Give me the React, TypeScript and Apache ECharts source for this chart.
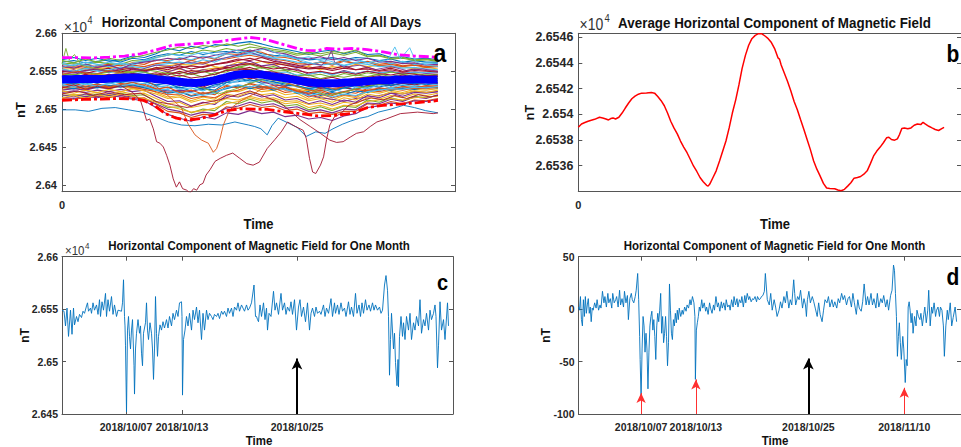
import React, { useEffect, useRef } from 'react';
import * as echarts from 'echarts';

const FONT = '"Liberation Sans", Arial, Helvetica, sans-serif';
const AXIS_COLOR = '#555555';
const LABEL_COLOR = '#262626';
const MATLAB = ['#0072BD', '#D95319', '#EDB120', '#7E2F8E', '#77AC30', '#4DBEEE', '#A2142F'];

// ---------- Panels a / b : hour of day ----------
const dayHours = [0, 0.75, 1.5, 2.25, 3, 3.75, 4.5, 5.25, 6, 6.75, 7.5, 8.25, 9, 9.75, 10.5, 11.25, 12, 12.75, 13.5, 14.25, 15, 15.75, 16.5, 17.25, 18, 18.75, 19.5, 20.25, 21, 21.75, 22.5, 23.25, 24];
const dayBase = 26540;
// deviation (nT) of each day's H from dayBase, sampled at dayHours
const allDaysDev: number[][] = [
  [22, 24, 21, 23, 25, 22, 27, 25, 30, 33, 31, 36, 32, 35, 36, 34, 38, 33, 31, 30, 27, 25, 26, 28, 25, 28, 27, 24, 26, 22, 24, 22, 22],
  [16, 18, 15, 17, 19, 17, 21, 19, 25, 24, 27, 24, 29, 26, 33, 32, 37, 35, 29, 28, 25, 18, 22, 20, 24, 20, 23, 19, 21, 17, 19, 16, 17],
  [12, 14, 11, 13, 15, 13, 15, 12, 14, 10, 13, 9, 12, 14, 16, 22, 19, 23, 18, 20, 15, 16, 12, 16, 14, 19, 16, 18, 15, 16, 13, 15, 13],
  [8, 6, 9, 7, 10, 8, 12, 9, 13, 9, 14, 8, 12, 10, 17, 19, 23, 17, 19, 12, 13, 6, 9, 6, 11, 7, 10, 8, 10, 7, 9, 7, 8],
  [4, 6, 3, 7, 4, 8, 5, 9, 4, 8, 3, 7, 2, 8, 9, 16, 12, 15, 10, 11, 4, 5, 0, 4, 2, 5, 3, 6, 3, 6, 3, 5, 4],
  [1, -1, 2, 0, 3, 1, 4, 2, 3, -1, 1, -3, 0, -2, 6, 10, 8, 11, 4, 5, 2, -4, -2, -5, -1, -3, 0, -1, 2, 0, 1, -1, 1],
  [-3, -1, -4, -1, -3, 0, -2, 1, -5, -3, -9, -7, -11, -5, -3, 4, 0, 3, -2, 0, -7, -6, -11, -8, -10, -6, -8, -3, -6, -2, -5, -2, -3],
  [-7, -5, -7, -4, -6, -3, -5, -3, -9, -12, -11, -16, -13, -15, -5, -4, -1, -6, -4, -9, -9, -15, -13, -17, -12, -14, -9, -11, -7, -9, -6, -8, -6],
  [-10, -8, -11, -7, -10, -6, -9, -7, -13, -18, -16, -22, -18, -21, -10, -11, -7, -12, -9, -15, -14, -20, -17, -22, -17, -19, -13, -15, -11, -13, -10, -11, -9],
  [-14, -12, -14, -11, -13, -10, -13, -11, -18, -24, -22, -29, -24, -27, -16, -17, -12, -17, -15, -21, -19, -27, -23, -28, -22, -25, -17, -19, -15, -18, -14, -15, -13],
  [-18, -16, -18, -15, -17, -14, -17, -15, -23, -30, -29, -36, -31, -34, -22, -24, -19, -24, -21, -28, -26, -33, -29, -34, -28, -31, -22, -25, -19, -23, -18, -19, -17],
  [-22, -21, -23, -20, -22, -19, -22, -21, -30, -38, -37, -45, -40, -42, -30, -33, -27, -32, -29, -36, -34, -41, -37, -42, -36, -38, -28, -31, -25, -29, -23, -25, -22],
  [11, 9, 12, 10, 8, 11, 9, 9, 3, 4, -3, 0, -6, -4, -2, 5, 2, 8, 7, 9, 5, 6, 9, 5, 10, 7, 10, 8, 9, 7, 9, 8, 9],
  [-5, -3, -5, -2, -4, 0, 2, 5, 4, 8, 7, 11, 9, 13, 15, 13, 12, 7, 1, -3, -6, -10, -12, -13, -11, -14, -9, -7, -9, -6, -8, -6, -7],
  [25, 28, 24, 27, 23, 25, 30, 28, 33, 40, 37, 43, 40, 45, 44, 47, 49, 46, 42, 39, 36, 32, 36, 38, 33, 37, 32, 33, 28, 29, 26, 27, 25],
  [-26, -27, -25, -23, -25, -22, -26, -25, -34, -43, -45, -51, -47, -48, -37, -39, -34, -38, -36, -42, -40, -46, -44, -47, -43, -43, -33, -35, -30, -33, -28, -29, -26],
  [2, 4, 3, 6, 5, 8, 10, 12, 14, 17, 19, 18, 21, 16, 13, 11, 4, -3, -6, -11, -14, -16, -15, -14, -12, -8, -6, -1, 1, 0, 3, 1, 2],
  [-15, -13, -15, -11, -13, -9, -11, -10, -14, -16, -15, -17, -12, -11, -2, -1, 3, -4, -8, -10, -17, -21, -25, -27, -30, -26, -24, -22, -19, -20, -17, -18, -17],
  [6, 5, 8, 6, 9, 11, 8, 12, 10, 7, 9, 6, 10, 5, 12, 15, 19, 14, 16, 12, 9, 4, 6, 2, 7, 4, 8, 5, 9, 6, 7, 5, 6],
  [-6, -8, -5, -9, -7, -4, -8, -6, -11, -9, -14, -12, -16, -10, -8, -2, -5, -1, -7, -5, -11, -12, -16, -13, -18, -11, -13, -8, -12, -8, -10, -6, -8],
  [3, 1, 4, 2, 6, 3, 7, 4, 6, 2, 5, 1, 3, 6, 11, 12, 15, 10, 9, 6, 3, 1, -1, 2, -2, 1, 2, 4, 1, 5, 2, 4, 3],
  [-11, -13, -10, -12, -9, -11, -8, -12, -15, -19, -17, -23, -20, -17, -13, -9, -13, -10, -15, -12, -19, -17, -22, -18, -21, -16, -18, -13, -15, -12, -14, -11, -12],
  [14, 16, 13, 15, 17, 14, 18, 16, 20, 22, 19, 24, 21, 25, 26, 29, 31, 28, 26, 24, 20, 19, 22, 18, 23, 20, 22, 17, 19, 16, 18, 15, 16],
  [-19, -21, -20, -18, -21, -17, -20, -19, -26, -33, -31, -38, -35, -32, -26, -28, -23, -27, -25, -30, -29, -34, -32, -36, -31, -33, -25, -27, -22, -25, -20, -22, -19],
  [-24, -26, -23, -25, -22, -24, -27, -29, -38, -47, -52, -56, -50, -53, -45, -47, -42, -46, -44, -50, -48, -53, -51, -55, -49, -46, -38, -36, -32, -34, -29, -30, -27],
  [19, 21, 18, 22, 20, 19, 24, 23, 28, 31, 35, 33, 38, 36, 40, 37, 42, 40, 37, 35, 31, 33, 30, 34, 31, 35, 29, 30, 26, 27, 24, 25, 23],
  [20, 17, 22, 19, 16, 21, 18, 23, 26, 22, 28, 25, 30, 27, 33, 29, 35, 31, 28, 32, 26, 29, 24, 27, 23, 26, 21, 24, 20, 23, 19, 21, 20],
  [9, 12, 7, 11, 14, 9, 13, 10, 15, 12, 17, 13, 16, 19, 22, 26, 24, 28, 23, 21, 18, 14, 16, 13, 17, 12, 15, 11, 14, 10, 13, 11, 10],
  [-1, 2, -3, 1, -2, 3, 0, 4, -2, 1, -5, -2, -6, 0, 4, 8, 5, 9, 6, 2, -1, -3, -7, -4, -8, -5, -2, -4, 0, -3, 1, -2, 0],
  [-9, -6, -10, -7, -11, -8, -5, -9, -14, -11, -18, -15, -20, -16, -9, -12, -6, -10, -13, -11, -16, -19, -15, -20, -17, -14, -16, -12, -14, -10, -12, -9, -10],
  [-16, -19, -15, -18, -14, -17, -13, -16, -20, -26, -24, -31, -27, -30, -20, -23, -17, -21, -19, -25, -23, -29, -26, -31, -25, -28, -20, -23, -17, -20, -16, -18, -15],
  [-21, -24, -20, -23, -19, -22, -24, -27, -33, -40, -43, -48, -44, -46, -39, -36, -31, -35, -33, -39, -37, -43, -41, -45, -40, -41, -32, -33, -27, -30, -24, -26, -21],
  [24, 21, 26, 22, 27, 24, 28, 31, 35, 38, 42, 40, 44, 42, 46, 43, 46, 42, 39, 37, 33, 35, 33, 36, 34, 38, 30, 31, 27, 28, 25, 26, 24],
  [13, 10, 14, 11, 12, 15, 16, 14, 18, 20, 22, 20, 25, 22, 28, 31, 33, 30, 27, 25, 22, 21, 18, 20, 17, 21, 19, 16, 17, 14, 15, 13, 12],
  [5, 2, 6, 3, 1, 4, 7, 5, 8, 5, 10, 6, 9, 11, 14, 18, 20, 16, 13, 15, 11, 8, 10, 7, 9, 6, 10, 7, 5, 8, 6, 4, 5],
  [-4, -7, -3, -6, -2, -5, -1, -4, -8, -6, -12, -9, -14, -8, -5, 1, -3, -1, -4, -7, -9, -13, -10, -15, -12, -9, -11, -6, -9, -5, -7, -4, -5],
  [-12, -10, -13, -9, -12, -8, -11, -14, -17, -21, -20, -26, -23, -25, -18, -15, -10, -14, -12, -18, -16, -24, -20, -25, -21, -23, -15, -17, -13, -15, -12, -13, -11],
  [-25, -22, -26, -21, -24, -20, -23, -26, -31, -36, -40, -44, -42, -39, -33, -30, -25, -29, -27, -33, -31, -38, -35, -40, -35, -36, -30, -28, -26, -28, -25, -24, -23],
  [17, 14, 19, 15, 18, 13, 20, 22, 24, 27, 25, 30, 27, 31, 34, 38, 36, 40, 35, 33, 28, 26, 29, 25, 28, 24, 27, 22, 23, 20, 21, 18, 19],
  [-2, 1, -1, 3, 0, 2, -1, 3, 1, -2, 0, -4, -2, 1, 5, 9, 11, 7, 6, 3, -1, -4, -3, -6, -4, -7, -3, -5, -2, -4, -1, -3, -2],
  [-8, -11, -7, -10, -6, -9, -7, -10, -15, -14, -20, -18, -22, -19, -12, -8, -11, -7, -12, -14, -18, -22, -19, -24, -20, -22, -17, -15, -13, -14, -11, -12, -10],
  [10, 8, 11, 13, 10, 12, 14, 11, 13, 15, 14, 17, 15, 19, 21, 24, 27, 23, 21, 18, 15, 13, 14, 11, 14, 12, 13, 10, 12, 9, 11, 10, 9],
];

// disturbed days: [hour, H (nT)]
const deepStormDay: [number, number][] = [[0, 26528], [0.75, 26532], [1.5, 26526], [2.25, 26530], [3, 26527], [3.75, 26531], [4.5, 26522], [5.0, 26512], [5.2, 26499], [5.4, 26485], [5.6, 26487], [5.83, 26474], [6.04, 26457], [6.25, 26455], [6.47, 26450], [6.68, 26439], [6.89, 26426], [7.1, 26408], [7.3, 26397], [7.5, 26404], [7.7, 26395], [7.96, 26393], [8.17, 26389], [8.4, 26395], [8.6, 26393], [8.8, 26400], [9.0, 26402], [9.2, 26413], [9.45, 26420], [9.77, 26431], [10.1, 26435], [10.5, 26439], [10.9, 26442], [11.35, 26435], [11.8, 26428], [12.2, 26426], [12.6, 26430], [13.1, 26448], [13.6, 26460], [14.0, 26470], [14.4, 26483], [14.9, 26477], [15.4, 26472], [15.6, 26461], [15.8, 26435], [16.0, 26417], [16.2, 26415], [16.5, 26426], [16.7, 26437], [16.9, 26461], [17.1, 26479], [17.4, 26490], [17.8, 26494], [18.3, 26505], [19, 26510], [19.75, 26515], [20.5, 26512], [21.25, 26518], [22, 26514], [22.75, 26519], [23.5, 26516], [24, 26518]];
const orangeStormDay: [number, number][] = [[0, 26546], [1, 26550], [2, 26545], [3, 26551], [4, 26547], [5, 26543], [6, 26530], [6.75, 26518], [7.3, 26508], [7.64, 26501], [8.06, 26480], [8.49, 26466], [8.92, 26459], [9.34, 26455], [9.66, 26443], [9.87, 26448], [10.09, 26461], [10.3, 26479], [10.6, 26494], [10.9, 26503], [11.5, 26512], [12.25, 26520], [13, 26530], [13.75, 26526], [14.5, 26534], [15.25, 26528], [16, 26524], [16.75, 26530], [17.5, 26526], [18.25, 26533], [19, 26530], [19.75, 26537], [20.5, 26534], [21.25, 26540], [22, 26536], [22.75, 26541], [23.5, 26538], [24, 26540]];
const lowBlueDay: [number, number][] = [[0, 26499], [0.85, 26499], [1.7, 26497], [2.55, 26501], [3.4, 26502], [4.24, 26499], [5.1, 26496], [5.94, 26490], [6.8, 26483], [7.64, 26479], [8.49, 26478], [9.34, 26480], [10.2, 26479], [11.04, 26483], [11.9, 26479], [12.3, 26477], [12.7, 26474], [13.1, 26466], [13.4, 26478], [13.8, 26488], [14.4, 26482], [15.0, 26476], [15.6, 26464], [16.2, 26470], [16.8, 26468], [17.3, 26474], [17.9, 26480], [18.4, 26484], [19.0, 26488], [19.5, 26490], [20.2, 26496], [21, 26500], [21.8, 26505], [22.5, 26502], [23.2, 26498], [24, 26495]];
const redDipDay: [number, number][] = [[0, 26520], [1, 26524], [2, 26518], [3, 26523], [4, 26519], [5, 26521], [6, 26510], [7, 26506], [8, 26502], [9, 26508], [10, 26512], [11, 26518], [12, 26524], [13, 26516], [13.8, 26510], [14.55, 26498], [15.2, 26486], [15.85, 26477], [16.5, 26468], [17.1, 26459], [17.53, 26456], [17.95, 26457], [18.4, 26463], [18.8, 26468], [19.25, 26470], [19.68, 26477], [20.1, 26483], [20.7, 26487], [21.6, 26494], [22.7, 26496], [23.7, 26494], [24, 26495]];
const cyanSpikeDay: [number, number][] = [[0, 26555], [1, 26560], [2, 26556], [3, 26562], [4, 26558], [5, 26563], [6, 26568], [7, 26572], [8, 26570], [9, 26575], [10, 26571], [11, 26578], [12, 26574], [13, 26580], [14, 26571], [15, 26566], [16, 26560], [17, 26564], [18, 26558], [19, 26563], [20, 26560], [20.8, 26565], [21.25, 26582], [21.6, 26566], [22.2, 26581], [22.6, 26562], [23.3, 26558], [24, 26556]];
const purpleSpikeDay: [number, number][] = [[0, 26551], [1, 26548], [2, 26553], [3, 26549], [4, 26555], [5, 26552], [6, 26558], [7, 26556], [8, 26562], [9, 26559], [10, 26566], [11, 26570], [12, 26575], [13, 26568], [14, 26562], [15, 26556], [16, 26560], [16.6, 26558], [17.0, 26568], [17.2, 26577], [17.4, 26562], [18, 26555], [19, 26558], [20, 26552], [21, 26556], [22, 26551], [23, 26553], [24, 26550]];
const greenSpikeDay: [number, number][] = [[0, 26560], [0.25, 26580], [0.45, 26565], [0.8, 26572], [1.2, 26558], [2, 26554], [3, 26550], [4, 26548], [5, 26550], [6, 26545], [7, 26540], [8, 26532], [9, 26528], [10, 26520], [11, 26526], [12, 26534], [13, 26540], [14, 26536], [15, 26530], [16, 26524], [17, 26518], [18, 26522], [19, 26528], [20, 26532], [21, 26534], [22, 26538], [23, 26542], [24, 26540]];

const upperEnvelope: [number, number][] = [[0, 26568], [1, 26568], [2, 26567.5], [3, 26568.5], [4, 26570], [5, 26573], [6, 26578], [7, 26584], [8, 26585.5], [9, 26587], [10, 26589], [11, 26592], [12, 26594.5], [13, 26592], [14, 26586], [15, 26580], [15.6, 26577.5], [16.3, 26577], [16.9, 26580], [17.6, 26579], [18.5, 26580], [19.5, 26578.5], [20.5, 26575.5], [21.5, 26571.5], [22.5, 26570], [23.5, 26569], [24, 26568]];
const lowerEnvelope: [number, number][] = [[0, 26511.5], [1.4, 26512.8], [2.5, 26513.2], [3.5, 26514], [4.6, 26513.2], [5.2, 26511.5], [5.8, 26506], [6.6, 26494], [7.3, 26488], [8, 26485.5], [8.8, 26487.5], [9.7, 26492], [10.5, 26498], [11.4, 26500.5], [12.3, 26500], [13.1, 26499.5], [14.2, 26496.5], [15.2, 26494], [16.3, 26491], [17.3, 26491.5], [18.4, 26494], [19.5, 26502], [20.5, 26505], [21.6, 26506.5], [22.7, 26508.5], [23.7, 26510.5], [24, 26511.5]];

const averageCurve: [number, number][] = [[0, 26539.0], [0.21, 26539.25], [0.43, 26539.36], [0.64, 26539.46], [0.85, 26539.54], [1.07, 26539.61], [1.39, 26539.77], [1.6, 26539.72], [1.81, 26539.64], [1.98, 26539.56], [2.13, 26539.67], [2.28, 26539.72], [2.44, 26539.64], [2.66, 26539.77], [2.87, 26540.1], [3.08, 26540.49], [3.3, 26540.88], [3.51, 26541.21], [3.72, 26541.42], [3.94, 26541.57], [4.15, 26541.65], [4.47, 26541.67], [4.79, 26541.7], [5.0, 26541.65], [5.21, 26541.39], [5.43, 26541.06], [5.64, 26540.67], [5.85, 26540.1], [6.06, 26539.46], [6.27, 26538.94], [6.49, 26538.48], [6.7, 26537.92], [6.91, 26537.45], [7.13, 26537.01], [7.34, 26536.5], [7.55, 26535.98], [7.77, 26535.55], [7.98, 26535.08], [8.19, 26534.75], [8.41, 26534.47], [8.51, 26534.41], [8.62, 26534.57], [8.83, 26535.08], [9.04, 26535.6], [9.26, 26536.37], [9.47, 26537.14], [9.68, 26537.92], [9.89, 26538.94], [10.1, 26540.1], [10.32, 26541.13], [10.53, 26542.29], [10.74, 26543.58], [10.96, 26544.61], [11.17, 26545.38], [11.38, 26545.89], [11.6, 26546.15], [11.81, 26546.28], [12.02, 26546.28], [12.24, 26546.1], [12.45, 26545.89], [12.66, 26545.59], [12.87, 26545.12], [13.09, 26544.4], [13.19, 26544.3], [13.3, 26543.84], [13.51, 26543.2], [13.72, 26542.55], [13.93, 26541.83], [14.15, 26541.0], [14.36, 26540.36], [14.57, 26539.59], [14.79, 26538.82], [15.0, 26538.04], [15.21, 26537.27], [15.43, 26536.37], [15.64, 26535.73], [15.85, 26535.21], [16.07, 26534.62], [16.28, 26534.26], [16.49, 26534.23], [16.81, 26534.21], [17.02, 26534.11], [17.23, 26534.05], [17.45, 26534.16], [17.66, 26534.41], [17.87, 26534.67], [18.08, 26535.03], [18.3, 26535.08], [18.51, 26535.16], [18.72, 26535.34], [18.94, 26535.6], [19.15, 26536.16], [19.36, 26536.76], [19.57, 26537.14], [19.79, 26537.45], [20.0, 26537.79], [20.21, 26538.17], [20.36, 26538.22], [20.53, 26538.04], [20.74, 26537.99], [20.92, 26538.09], [21.06, 26538.43], [21.21, 26538.89], [21.38, 26538.94], [21.6, 26538.87], [21.81, 26538.94], [22.02, 26539.15], [22.23, 26539.25], [22.45, 26539.2], [22.6, 26539.38], [22.74, 26539.25], [22.98, 26539.07], [23.19, 26538.94], [23.4, 26538.82], [23.62, 26538.74], [23.83, 26538.89], [23.98, 26538.99]];

const dayAxisMax = 25.09;
const allDaysTicks = [26400, 26450, 26500, 26550, 26600];
const averageTicks = [26536, 26538, 26540, 26542, 26544, 26546];

// ---------- Panels c / d : one month, sample index ----------
const monthAxisMax = 782;
const monthTickIdx = [128, 240, 470, 666];
const monthTickLabels = ['2018/10/07', '2018/10/13', '2018/10/25', '2018/11/10'];
const monthTicksC = [26450, 26500, 26550, 26600];
const monthTicksD = [-100, -50, 0, 50];

const monthFieldC: [number, number][] = [[0, 26549], [4, 26548], [7, 26534], [10, 26551], [13, 26524], [17, 26549], [20, 26526], [23, 26551], [25, 26535], [29, 26543], [32, 26538], [35, 26545], [39, 26542], [42, 26548], [45, 26546], [49, 26553], [51, 26556], [53, 26548], [57, 26551], [59, 26546], [62, 26556], [65, 26549], [69, 26554], [72, 26545], [75, 26559], [77, 26543], [80, 26557], [83, 26549], [87, 26565], [89, 26543], [92, 26559], [95, 26548], [99, 26562], [102, 26545], [105, 26554], [109, 26543], [112, 26549], [119, 26548], [121, 26556], [123, 26578], [125, 26543], [126, 26534], [127, 26515], [129, 26452], [131, 26530], [133, 26543], [135, 26524], [137, 26512], [139, 26530], [141, 26540], [144, 26496], [145, 26469], [147, 26512], [149, 26527], [152, 26540], [155, 26527], [157, 26534], [159, 26508], [161, 26496], [163, 26527], [167, 26537], [169, 26556], [171, 26530], [173, 26521], [176, 26537], [179, 26527], [181, 26512], [183, 26483], [185, 26512], [187, 26562], [189, 26527], [191, 26505], [193, 26524], [196, 26535], [199, 26530], [202, 26538], [205, 26532], [209, 26540], [212, 26532], [215, 26543], [219, 26534], [222, 26546], [225, 26540], [229, 26549], [232, 26543], [235, 26556], [239, 26557], [240, 26543], [241, 26468], [243, 26521], [246, 26530], [249, 26543], [252, 26534], [255, 26546], [259, 26530], [262, 26549], [265, 26540], [269, 26552], [272, 26537], [275, 26549], [279, 26521], [282, 26546], [285, 26530], [289, 26549], [292, 26540], [295, 26546], [299, 26543], [302, 26540], [305, 26545], [309, 26543], [312, 26546], [315, 26541], [319, 26548], [322, 26545], [325, 26548], [329, 26543], [332, 26551], [335, 26546], [339, 26551], [342, 26543], [345, 26552], [349, 26549], [352, 26556], [355, 26548], [359, 26554], [362, 26551], [365, 26548], [369, 26554], [372, 26549], [375, 26551], [379, 26556], [384, 26573], [387, 26543], [389, 26543], [391, 26540], [393, 26538], [396, 26554], [399, 26543], [403, 26556], [406, 26540], [409, 26551], [411, 26530], [414, 26546], [418, 26543], [423, 26567], [426, 26549], [429, 26556], [433, 26545], [438, 26565], [441, 26549], [445, 26556], [448, 26545], [451, 26552], [455, 26548], [458, 26557], [461, 26545], [465, 26559], [469, 26530], [473, 26552], [476, 26559], [479, 26543], [483, 26552], [487, 26538], [491, 26556], [495, 26530], [498, 26546], [501, 26551], [505, 26543], [508, 26552], [511, 26546], [515, 26548], [518, 26545], [523, 26554], [526, 26543], [529, 26551], [533, 26546], [538, 26560], [541, 26543], [545, 26556], [547, 26546], [551, 26554], [554, 26545], [558, 26556], [561, 26548], [565, 26551], [568, 26543], [573, 26557], [576, 26545], [579, 26552], [583, 26543], [587, 26565], [590, 26546], [594, 26554], [597, 26543], [600, 26556], [603, 26546], [607, 26559], [610, 26549], [614, 26554], [617, 26548], [621, 26556], [624, 26549], [627, 26554], [631, 26549], [635, 26552], [638, 26546], [641, 26549], [645, 26573], [648, 26582], [651, 26568], [653, 26543], [655, 26487], [657, 26521], [659, 26546], [663, 26512], [665, 26527], [667, 26499], [670, 26477], [672, 26502], [673, 26476], [675, 26524], [678, 26543], [681, 26524], [683, 26537], [686, 26521], [689, 26543], [693, 26530], [696, 26546], [699, 26521], [703, 26537], [706, 26530], [709, 26543], [713, 26534], [716, 26559], [719, 26527], [723, 26540], [726, 26534], [729, 26546], [733, 26530], [736, 26549], [739, 26540], [743, 26546], [746, 26554], [748, 26543], [751, 26494], [753, 26515], [756, 26557], [759, 26530], [763, 26540], [766, 26521], [771, 26556], [773, 26534]];

const monthDevD: [number, number][] = [[0, 2], [2, -1], [4, 12], [6, -10], [8, -16], [10, 9], [12, -7], [14, 12], [16, -4], [18, 4], [20, 10], [22, -4], [24, 2], [26, -12], [28, 1], [30, -1], [33, 6], [36, 1], [38, 9], [41, -1], [44, 4], [46, 1], [49, 17], [52, 6], [54, 12], [57, 2], [60, 15], [62, 6], [65, 10], [68, 1], [70, 15], [73, 6], [76, 9], [78, 12], [81, 2], [84, 18], [86, 4], [89, 10], [92, 2], [94, 17], [97, 6], [100, 13], [102, -10], [105, 10], [108, 15], [110, 9], [113, 6], [116, 12], [118, 18], [121, 34], [123, 9], [125, -26], [126, -48], [128, -85], [130, -38], [132, -7], [134, -16], [136, -41], [138, -23], [140, -38], [142, -76], [144, -41], [146, -16], [148, -7], [150, -2], [152, -20], [154, -10], [156, -26], [158, -48], [160, -16], [162, -4], [164, -12], [166, -1], [168, 15], [170, -23], [172, -7], [174, -32], [176, -23], [178, -7], [180, -26], [182, -54], [184, -32], [186, 24], [188, -1], [190, -23], [192, -29], [194, -10], [196, -16], [198, -4], [200, -13], [202, -1], [204, -10], [206, 1], [209, -7], [212, -1], [214, -5], [217, 2], [220, -2], [222, 4], [225, 1], [228, 9], [230, 4], [233, 12], [236, 6], [238, -7], [239, -67], [241, -20], [243, -13], [245, -7], [247, 2], [249, -2], [252, 9], [254, 1], [257, 6], [260, -2], [262, 2], [265, -5], [268, 6], [270, 1], [273, -4], [276, 4], [278, -1], [281, 12], [284, 2], [286, 6], [289, -2], [292, 7], [294, 1], [297, 6], [300, -1], [302, 9], [305, 2], [308, 4], [310, -1], [313, 9], [316, 2], [318, 12], [321, 4], [324, 10], [326, 2], [329, 9], [332, 6], [334, 12], [337, 2], [340, 13], [342, 6], [345, 15], [348, 9], [350, 12], [353, 7], [356, 10], [358, 9], [361, 12], [364, 7], [366, 12], [369, 9], [372, 10], [374, 12], [377, 13], [380, 17], [382, 34], [386, 9], [390, 4], [393, 15], [396, -1], [400, 9], [403, 2], [406, -7], [410, -1], [413, 7], [416, 1], [420, 12], [423, 6], [426, 17], [430, 1], [433, 9], [436, 4], [440, 28], [442, 15], [444, 4], [448, 12], [451, 9], [454, 18], [458, 1], [461, 10], [464, 4], [466, -7], [468, 9], [471, 17], [474, 6], [478, 12], [481, 7], [484, 1], [488, -7], [491, 6], [494, -5], [498, -12], [501, -1], [504, 9], [508, 6], [511, 12], [514, 2], [518, 9], [521, 2], [524, 7], [528, 1], [531, 10], [534, 6], [538, 15], [541, 9], [544, 13], [548, 4], [551, 10], [554, 12], [558, 2], [561, 15], [564, 6], [568, -5], [571, 9], [574, 1], [578, -2], [581, 7], [584, 24], [588, 4], [591, 12], [594, 4], [598, 15], [601, 4], [604, 10], [608, 1], [611, 15], [614, 2], [618, 10], [621, 6], [624, 13], [628, 2], [631, 9], [634, -1], [638, 13], [641, 18], [644, 42], [646, 37], [648, 15], [650, -7], [652, -45], [654, -26], [656, -13], [658, -32], [660, -48], [663, -26], [665, -38], [668, -70], [670, -48], [672, -54], [674, 2], [676, 7], [678, -1], [680, -13], [682, -4], [684, -23], [687, -7], [690, -16], [692, -1], [695, -7], [698, -10], [700, -4], [703, -16], [706, -5], [708, 2], [711, -13], [714, -1], [716, 18], [719, -16], [722, 2], [724, -4], [727, 6], [730, -7], [732, -1], [735, 2], [738, -7], [740, 2], [743, -1], [746, -16], [748, -45], [751, -16], [754, -1], [756, -10], [760, 6], [763, -16], [766, -8], [770, 2], [773, -12]];

// arrows: storm days (red) and the quiet reference day (black)
const stormIdx = [128, 240, 666];
const stormArrowTipD = [-80, -67, -75];
const quietIdx = 470;
const quietArrowTipC = 26503;
const quietArrowTipD = -47;

const dayFmt = (v: number) => String(Number((v / 10000).toFixed(4)));

function xPair(gridIndex: number, max: number, ticks: number[], labels: number[], fmt: (v: number) => string, fontSize: number, margin: number) {
  const line = { show: true, onZero: false, lineStyle: { color: AXIS_COLOR, width: 1 } };
  const tick = { show: ticks.length > 0, inside: true, length: 4, customValues: ticks, lineStyle: { color: AXIS_COLOR, width: 1 } };
  return [
    { type: 'value', gridIndex, position: 'bottom', min: 0, max, axisLine: line, axisTick: tick, splitLine: { show: false },
      axisLabel: { show: true, customValues: labels, formatter: fmt, fontSize, fontWeight: 'bold', fontFamily: FONT, color: LABEL_COLOR, margin, hideOverlap: false } },
    { type: 'value', gridIndex, position: 'top', min: 0, max, axisLine: line, axisTick: tick, splitLine: { show: false }, axisLabel: { show: false } },
  ];
}
function yPair(gridIndex: number, min: number, max: number, ticks: number[], fmt: (v: number) => string, fontSize: number, margin: number) {
  const line = { show: true, onZero: false, lineStyle: { color: AXIS_COLOR, width: 1 } };
  const tick = { show: true, inside: true, length: 4, customValues: ticks, lineStyle: { color: AXIS_COLOR, width: 1 } };
  return [
    { type: 'value', gridIndex, position: 'left', min, max, axisLine: line, axisTick: tick, splitLine: { show: false },
      axisLabel: { show: true, customValues: ticks, formatter: fmt, fontSize, fontWeight: 'bold', fontFamily: FONT, color: LABEL_COLOR, margin, hideOverlap: false } },
    { type: 'value', gridIndex, position: 'right', min, max, axisLine: line, axisTick: tick, splitLine: { show: false }, axisLabel: { show: false } },
  ];
}

function txt(text: string, x: number, y: number, size: number, o: any = {}) {
  const align = o.align || 'center';
  return {
    type: 'text', x, y, rotation: o.rot || 0, scaleY: o.sy ?? 1.12, silent: true, z: 100,
    style: {
      text, fill: o.color || '#111', fontSize: size, fontWeight: o.weight || 'bold', fontFamily: FONT,
      align, textAlign: align, verticalAlign: 'middle', textVerticalAlign: 'middle',
    },
  };
}

function lineSeries(data: any[], xi: number, color: string, width: number, extra: any = {}) {
  return {
    type: 'line', xAxisIndex: xi, yAxisIndex: xi, data, showSymbol: false, symbol: 'none', silent: true,
    emphasis: { disabled: true }, lineStyle: { color, width, ...(extra.lineStyle || {}) }, z: extra.z || 2,
  };
}

export default function App() {
  const ref = useRef<HTMLDivElement>(null);
  useEffect(() => {
    if (!ref.current) return;
    const chart = echarts.init(ref.current, null, { renderer: 'svg', width: 961, height: 447 });

    const series: any[] = [];
    // panel a
    allDaysDev.forEach((dev, k) => {
      series.push(lineSeries(dayHours.map((h, i) => [h, dayBase + dev[i]]), 0, MATLAB[k % 7], 1.1));
    });
    series.push(lineSeries(greenSpikeDay, 0, MATLAB[4], 0.9));
    series.push(lineSeries(purpleSpikeDay, 0, MATLAB[3], 0.9));
    series.push(lineSeries(cyanSpikeDay, 0, MATLAB[5], 0.9));
    series.push(lineSeries(lowBlueDay, 0, MATLAB[0], 0.9));
    series.push(lineSeries(orangeStormDay, 0, MATLAB[1], 0.9));
    series.push(lineSeries(redDipDay, 0, MATLAB[6], 0.9));
    series.push(lineSeries(deepStormDay, 0, MATLAB[6], 0.9));
    series.push(lineSeries(averageCurve, 0, '#0000ff', 8, { z: 3 }));
    series.push(lineSeries(upperEnvelope, 0, '#ff00ff', 2.8, { z: 4, lineStyle: { type: [10, 3, 3, 3] } }));
    series.push(lineSeries(lowerEnvelope, 0, '#ff0000', 2.8, { z: 4, lineStyle: { type: [10, 3, 3, 3] } }));
    // panel b
    series.push(lineSeries(averageCurve, 2, '#ff0000', 1.5));
    // panel c
    const cSeries: any = lineSeries(monthFieldC, 4, '#0072BD', 0.9);
    cSeries.markLine = {
      silent: true, symbol: ['none', 'arrow'], symbolSize: [8, 11], label: { show: false }, emphasis: { disabled: true },
      lineStyle: { color: '#000', width: 2, type: 'solid' },
      data: [[{ coord: [quietIdx, 26450] }, { coord: [quietIdx, quietArrowTipC] }]],
    };
    series.push(cSeries);
    // panel d
    const dSeries: any = lineSeries(monthDevD, 6, '#0072BD', 0.9);
    dSeries.markLine = {
      silent: true, symbol: ['none', 'arrow'], symbolSize: [8, 11], label: { show: false }, emphasis: { disabled: true },
      lineStyle: { color: '#000', width: 2, type: 'solid' },
      data: [
        [{ coord: [quietIdx, -100] }, { coord: [quietIdx, quietArrowTipD] }],
        ...stormIdx.map((idx, i) => [
          { coord: [idx, -100], lineStyle: { color: '#ff3030', width: 1, type: 'solid' } },
          { coord: [idx, stormArrowTipD[i]], symbolSize: [7, 10] },
        ]),
      ],
    };
    series.push(dSeries);

    const monthFmt = (v: number) => monthTickLabels[monthTickIdx.indexOf(v)] || '';
    const cIdx = monthTickIdx.slice(0, 3);

    const option: any = {
      animation: false,
      backgroundColor: '#ffffff',
      grid: [
        { left: 62, top: 33.3, width: 393, height: 158.4 },
        { left: 578.3, top: 33.3, width: 393, height: 157.7 },
        { left: 62, top: 256.7, width: 391, height: 157.3 },
        { left: 578.5, top: 256.7, width: 391, height: 157.3 },
      ],
      xAxis: [
        ...xPair(0, dayAxisMax, [], [0], () => '0', 11, 8),
        ...xPair(1, dayAxisMax, [], [0], () => '0', 11, 8),
        ...xPair(2, monthAxisMax, cIdx, cIdx, monthFmt, 10.5, 7),
        ...xPair(3, monthAxisMax, monthTickIdx, monthTickIdx, monthFmt, 10.5, 7),
      ],
      yAxis: [
        ...yPair(0, 26391, 26600, allDaysTicks, dayFmt, 11, 5),
        ...yPair(1, 26534.03, 26546.31, averageTicks, dayFmt, 12.4, 5),
        ...yPair(2, 26450, 26600, monthTicksC, dayFmt, 10.5, 4),
        ...yPair(3, -100, 50, monthTicksD, (v: number) => String(v), 10.5, 4),
      ],
      series,
      graphic: [
        txt('Horizontal Component of Magnetic Field of All Days', 261.5, 22.5, 13),
        txt('×10', 64, 26.5, 13.5, { align: 'left', weight: 'normal', color: '#333' }),
        txt('4', 87.5, 20.5, 9, { align: 'left', weight: 'normal', color: '#333' }),
        txt('Average Horizontal Component of Magnetic Field', 774.5, 22.5, 13.4),
        txt('×10', 579.5, 24.5, 14, { align: 'left', weight: 'normal', color: '#333' }),
        txt('4', 604.5, 18, 9.5, { align: 'left', weight: 'normal', color: '#333' }),
        txt('Horizontal Component of Magnetic Field for One Month', 259, 245.7, 11.5),
        txt('×10', 65, 250.5, 11.5, { align: 'left', weight: 'normal', color: '#333' }),
        txt('4', 85, 245.5, 8, { align: 'left', weight: 'normal', color: '#333' }),
        txt('Horizontal Component of Magnetic Field for One Month', 774.5, 245.7, 11.5),
        txt('Time', 258.5, 224.5, 13),
        txt('Time', 775, 224.5, 13),
        txt('Time', 259, 441, 11.5),
        txt('Time', 775, 441, 11.5),
        txt('nT', 20, 110, 13, { rot: Math.PI / 2, sy: 1 }),
        txt('nT', 530, 112.5, 12.5, { rot: Math.PI / 2, sy: 1 }),
        txt('nT', 25, 335.5, 12, { rot: Math.PI / 2, sy: 1 }),
        txt('nT', 546, 335.5, 12, { rot: Math.PI / 2, sy: 1 }),
        txt('a', 440, 53.5, 23, { color: '#000' }),
        txt('b', 953, 54.5, 21, { color: '#000' }),
        txt('c', 442.5, 282, 20, { color: '#000' }),
        txt('d', 953, 277, 21, { color: '#000' }),
      ],
    };
    chart.setOption(option);
    return () => chart.dispose();
  }, []);

  return (
    <div style={{ position: 'fixed', left: 0, top: 0, width: 961, height: 447, overflow: 'hidden', background: '#fff' }}>
      <div ref={ref} style={{ width: 961, height: 447 }} />
    </div>
  );
}
